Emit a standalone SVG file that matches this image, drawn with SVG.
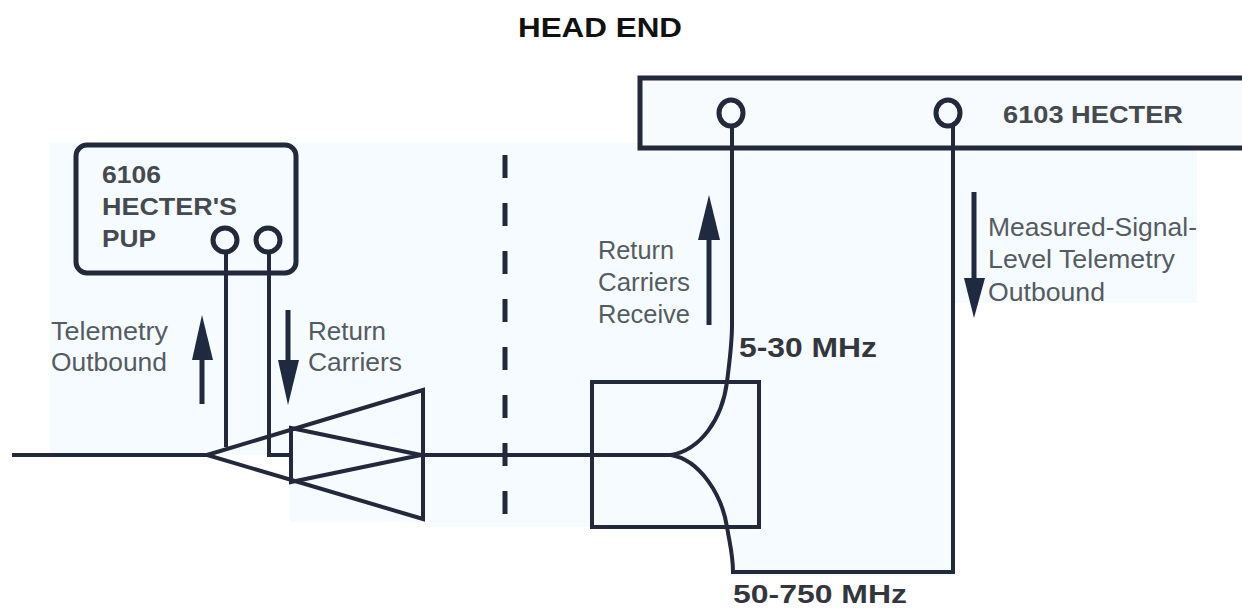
<svg xmlns="http://www.w3.org/2000/svg" width="1242" height="609" viewBox="0 0 1242 609">
<style>
.ln{fill:none;stroke:#23283a;stroke-width:4}
.hv{fill:none;stroke:#23283a;stroke-width:5}
.ah{fill:#1f2a40}
.as{stroke:#1f2a40;stroke-width:5;fill:none}
text{font-family:"Liberation Sans",Arial,sans-serif}
.lb{font-size:26px;fill:#555b63}
.bd{font-size:24px;font-weight:bold;fill:#454a50}
.mh{font-size:27px;font-weight:bold;fill:#33363c}
</style>
<rect width="1242" height="609" fill="#fff"/>
<path id="tint" fill="#f5fbfe" d="M50 143H1197V303H955V576H733V527H425V522H290V455H50Z"/>
<rect x="640" y="78" width="602" height="70" fill="#f7fbfd"/>
<text id="title" x="518" y="37" font-size="28" font-weight="bold" font-family="Liberation Sans" fill="#111" textLength="164" lengthAdjust="spacingAndGlyphs">HEAD END</text>
<g id="connectors">
<path class="ln" d="M12 455H207"/>
<path class="ln" d="M420 455H671"/>
<path class="ln" d="M226 252V447"/>
<path class="ln" d="M269 252V455H291"/>
<path class="ln" d="M732 125V325C732 345 729 365 727 382C722 420 700 450 671 455C700 460 722 495 727 527C730 545 733 555 733 572H953V125"/>
<path class="hv" stroke-dasharray="23 25" d="M505 155V517"/>
</g>
<g id="arrows">
<path class="as" d="M202 404V355"/><path class="ah" d="M202 315L213 360H192Z"/>
<path class="as" d="M288 310V365"/><path class="ah" d="M288 405L278 360H299Z"/>
<path class="as" d="M709 325V235"/><path class="ah" d="M709 195L720 240H698Z"/>
<path class="as" d="M974 192V285"/><path class="ah" d="M974 318L964 278H985Z"/>
</g>
<g id="pup">
<rect class="hv" x="76" y="145" width="220" height="128" rx="11"/>
<circle class="hv" cx="225" cy="240" r="12"/>
<circle class="hv" cx="268" cy="240" r="12"/>
<text class="bd" x="102" y="183" textLength="59" lengthAdjust="spacingAndGlyphs">6106</text>
<text class="bd" x="102" y="215" textLength="135" lengthAdjust="spacingAndGlyphs">HECTER'S</text>
<text class="bd" x="102" y="247" textLength="54" lengthAdjust="spacingAndGlyphs">PUP</text>
</g>
<g id="hecter">
<path class="hv" d="M1242 78H640V148H1242"/>
<ellipse class="hv" cx="731" cy="113" rx="12" ry="13"/>
<ellipse class="hv" cx="948" cy="113" rx="12" ry="13"/>
<text class="bd" x="1003" y="123" textLength="180" lengthAdjust="spacingAndGlyphs">6103 HECTER</text>
</g>
<g id="amp-outer"><path class="ln" d="M207 455L423 390V519Z"/></g>
<g id="amp-inner"><path class="ln" d="M291 428L421 455L291 482Z"/></g>
<g id="diplexer"><rect class="ln" x="592" y="382" width="167" height="145"/></g>
<g id="labels">
<text class="lb" x="51" y="340" textLength="117" lengthAdjust="spacingAndGlyphs">Telemetry</text>
<text class="lb" x="51" y="371" textLength="116" lengthAdjust="spacingAndGlyphs">Outbound</text>
<text class="lb" x="308" y="340" textLength="78" lengthAdjust="spacingAndGlyphs">Return</text>
<text class="lb" x="308" y="371" textLength="94" lengthAdjust="spacingAndGlyphs">Carriers</text>
<text class="lb" x="598" y="259" textLength="76" lengthAdjust="spacingAndGlyphs">Return</text>
<text class="lb" x="598" y="291" textLength="92" lengthAdjust="spacingAndGlyphs">Carriers</text>
<text class="lb" x="598" y="323" textLength="92" lengthAdjust="spacingAndGlyphs">Receive</text>
<text class="lb" x="988" y="236" textLength="209" lengthAdjust="spacingAndGlyphs">Measured-Signal-</text>
<text class="lb" x="988" y="268" textLength="187" lengthAdjust="spacingAndGlyphs">Level Telemetry</text>
<text class="lb" x="988" y="301" textLength="117" lengthAdjust="spacingAndGlyphs">Outbound</text>
<text class="mh" x="739" y="357" textLength="138" lengthAdjust="spacingAndGlyphs">5-30 MHz</text>
<text class="mh" x="733" y="603" font-size="25" style="font-size:25px" textLength="174" lengthAdjust="spacingAndGlyphs">50-750 MHz</text>
</g>
</svg>
